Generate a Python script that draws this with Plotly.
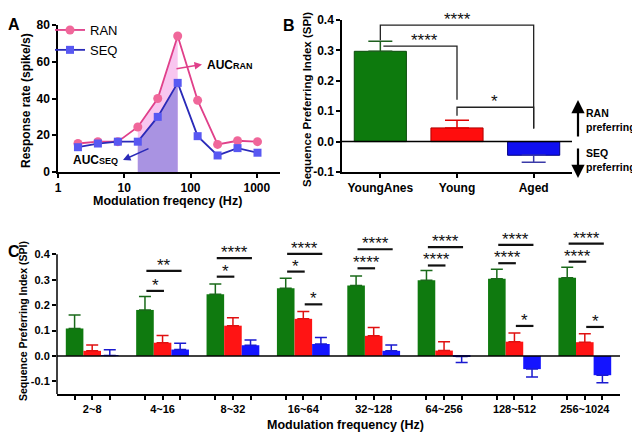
import plotly.graph_objects as go
import numpy as np

W, H = 640, 433
OFF = 8  # page body margin of the rendered html

# ---------------- data ----------------
freq = [2, 4, 8, 16, 32, 64, 128, 256, 512, 1024]
ran_rate = [15.5, 16.5, 16.5, 24.5, 40, 74, 39, 15, 17, 16.5]
seq_rate = [13.5, 15.5, 16.5, 16.5, 30, 48.5, 19.5, 9, 13, 10.5]
auc_lo, auc_hi = 16, 64

groups_b = ["YoungAnes", "Young", "Aged"]
spi_b = [0.297, 0.045, -0.045]
err_b = [0.033, 0.025, 0.023]

bands = ["2~8", "4~16", "8~32", "16~64", "32~128", "64~256", "128~512", "256~1024"]
spi_ya = [0.108, 0.181, 0.243, 0.266, 0.277, 0.298, 0.304, 0.308]
err_ya = [0.053, 0.053, 0.040, 0.040, 0.038, 0.038, 0.037, 0.041]
spi_yg = [0.020, 0.052, 0.119, 0.146, 0.079, 0.021, 0.056, 0.054]
err_yg = [0.023, 0.028, 0.031, 0.029, 0.033, 0.035, 0.034, 0.033]
spi_ag = [0.002, 0.025, 0.042, 0.047, 0.020, -0.002, -0.052, -0.076]
err_ag = [0.022, 0.025, 0.021, 0.025, 0.023, 0.024, 0.031, 0.030]

# significance: (group, from bar, to bar, height, label) ; bars: 0 green,1 red,2 blue
sig_c = [
    (1, 0, 1, 0.256, "*"), (1, 0, 2, 0.335, "**"),
    (2, 0, 1, 0.312, "*"), (2, 0, 2, 0.385, "****"),
    (3, 0, 1, 0.332, "*"), (3, 0, 2, 0.402, "****"), (3, 1, 2, 0.203, "*"),
    (4, 0, 1, 0.345, "****"), (4, 0, 2, 0.420, "****"),
    (5, 0, 1, 0.356, "****"), (5, 0, 2, 0.428, "****"),
    (6, 0, 1, 0.365, "****"), (6, 0, 2, 0.437, "****"), (6, 1, 2, 0.118, "*"),
    (7, 0, 1, 0.371, "****"), (7, 0, 2, 0.442, "****"), (7, 1, 2, 0.114, "*"),
]
# bracket for B: (x_left, x_right, height, left leg bottom, right leg bottom, label, label x)
sig_b = [
    (0, 2, 0.383, 0.333, 0.043, "****", 1.0),
    (0.04, 1, 0.314, 0.314, 0.138, "****", 0.58),
    (1, 2, 0.113, 0.085, 0.043, "*", 1.49),
]

# ---------------- styles ----------------
FONT = "Liberation Sans"
PINK_L, PINK_M = "#e0408a", "#f0679a"
BLUE_L, BLUE_M = "#2a2ab8", "#5858f2"
GREEN, RED, BLUE = "#0f7a0f", "#ff1414", "#1414ff"

def px(x):
    return (x - OFF) / W

def py(y):
    return 1 - (y - OFF) / H

fig = go.Figure()

# ---------------- panel A ----------------
idx = [i for i, f in enumerate(freq) if auc_lo <= f <= auc_hi]
fig.add_trace(go.Scatter(x=[freq[i] for i in idx], y=[ran_rate[i] for i in idx],
                         mode="lines", line=dict(width=0), fill="tozeroy",
                         fillcolor="#f8c6ef", showlegend=False, hoverinfo="skip",
                         xaxis="x", yaxis="y"))
fig.add_trace(go.Scatter(x=[freq[i] for i in idx], y=[seq_rate[i] for i in idx],
                         mode="lines", line=dict(width=0), fill="tozeroy",
                         fillcolor="#a993e2", showlegend=False, hoverinfo="skip",
                         xaxis="x", yaxis="y"))
fig.add_trace(go.Scatter(x=freq, y=ran_rate, name="RAN", mode="lines+markers",
                         line=dict(color=PINK_L, width=1.8),
                         marker=dict(symbol="circle", size=9, color=PINK_M),
                         xaxis="x", yaxis="y"))
fig.add_trace(go.Scatter(x=freq, y=seq_rate, name="SEQ", mode="lines+markers",
                         line=dict(color=BLUE_L, width=1.8),
                         marker=dict(symbol="square", size=8, color=BLUE_M),
                         xaxis="x", yaxis="y"))

# ---------------- panel B ----------------
xb = list(range(len(groups_b)))
cols_b = [("#0d7a0d", "#0a4a0a", "#1d5f1d"), ("#ff0d0d", "#b00000", "#e00000"), ("#1010f0", "#000080", "#3a3aa8")]
for i, g in enumerate(groups_b):
    v = spi_b[i]
    e = err_b[i]
    fig.add_trace(go.Bar(x=[xb[i]], y=[v], width=0.68, offset=-0.34,
                         marker=dict(color=cols_b[i][0], line=dict(color=cols_b[i][1], width=1)),
                         error_y=dict(type="data", symmetric=False,
                                      array=[e if v >= 0 else 0], arrayminus=[0 if v >= 0 else e],
                                      color=cols_b[i][2], thickness=1.5, width=12),
                         showlegend=False, xaxis="x2", yaxis="y2"))
for (x0, x1, h, yl, yr, lab, lx) in sig_b:
    fig.add_trace(go.Scatter(x=[x0, x0, x1, x1], y=[yl, h, h, yr], mode="lines",
                             line=dict(color="#222222", width=1.3), showlegend=False,
                             hoverinfo="skip", xaxis="x2", yaxis="y2"))

# ---------------- panel C ----------------
xc = np.arange(len(bands))
series_c = [(spi_ya, err_ya, GREEN, "#1a6a1a", -0.375),
            (spi_yg, err_yg, RED, "#e01010", -0.125),
            (spi_ag, err_ag, BLUE, "#1a1ad0", 0.125)]
for vals, errs, col, ecol, off in series_c:
    fig.add_trace(go.Bar(x=xc, y=vals, width=0.25, offset=off,
                         marker=dict(color=col, line=dict(width=0)),
                         error_y=dict(type="data", symmetric=False,
                                      array=[e if v >= 0 else 0 for v, e in zip(vals, errs)],
                                      arrayminus=[0 if v >= 0 else e for v, e in zip(vals, errs)],
                                      color=ecol, thickness=1.5, width=6),
                         showlegend=False, xaxis="x3", yaxis="y3"))

bar_off = [-0.25, 0.0, 0.25]
for (g, b0, b1, h, lab) in sig_c:
    fig.add_trace(go.Scatter(x=[g + bar_off[b0] + 0.02, g + bar_off[b1] + 0.02], y=[h, h],
                             mode="lines", line=dict(color="#111111", width=2.2),
                             showlegend=False, hoverinfo="skip", xaxis="x3", yaxis="y3"))

annotations = []
for (g, b0, b1, h, lab) in sig_c:
    annotations.append(dict(x=g + (bar_off[b0] + bar_off[b1]) / 2 + 0.02, y=h, xref="x3", yref="y3",
                            text=lab, showarrow=False, xanchor="center", yanchor="bottom", yshift=-6,
                            font=dict(family=FONT, size=17, color="#111111")))
for (x0, x1, h, yl, yr, lab, lx) in sig_b:
    annotations.append(dict(x=lx, y=h, xref="x2", yref="y2", text=lab, showarrow=False,
                            xanchor="center", yanchor="bottom", yshift=-6,
                            font=dict(family=FONT, size=17, color="#111111")))

def text(t, x, y, size, angle=0, xanchor="center"):
    annotations.append(dict(x=px(x), y=py(y), xref="paper", yref="paper", text=t,
                            showarrow=False, textangle=angle, xanchor=xanchor, yanchor="middle",
                            align="left", font=dict(family=FONT, size=size, color="black")))

# panel letters
for t, x, y in [("A", 14, 24), ("B", 289, 25), ("C", 14, 251)]:
    text("<b>%s</b>" % t, x, y, 16)

# axis titles
text("<b>Response rate (spike/s)</b>", 26, 101, 12, -90)
text("<b>Modulation freqency (Hz)</b>", 167, 201, 12.5)
text("<b>Sequence Preferring Index (SPI)</b>", 307, 100, 11.5, -90)
text("<b>Sequence Preferring Index (SPI)</b>", 23, 321, 10.5, -90)
text("<b>Modulation frequency (Hz)</b>", 345, 425, 12.5)

# AUC labels and arrows
text("<b>AUC<span style='font-size:9px'>RAN</span></b>", 205, 65, 12, xanchor="left")
text("<b>AUC<span style='font-size:9px'>SEQ</span></b>", 120, 160, 12, xanchor="right")
annotations.append(dict(x=px(202), y=py(64.5), xref="paper", yref="paper", ax=-27, ay=4.5,
                        text="", showarrow=True, arrowhead=2, arrowsize=1, arrowwidth=1.5,
                        arrowcolor=PINK_L))
annotations.append(dict(x=px(123), y=py(160), xref="paper", yref="paper", ax=27, ay=-12,
                        text="", showarrow=True, arrowhead=2, arrowsize=1, arrowwidth=1.5,
                        arrowcolor=BLUE_L))

# B side arrows + labels
annotations.append(dict(x=px(578), y=py(100), xref="paper", yref="paper", ax=0, ay=38,
                        text="", showarrow=True, arrowhead=2, arrowsize=1.2, arrowwidth=2.2,
                        arrowcolor="black"))
annotations.append(dict(x=px(578), y=py(178), xref="paper", yref="paper", ax=0, ay=-31,
                        text="", showarrow=True, arrowhead=2, arrowsize=1.2, arrowwidth=2.2,
                        arrowcolor="black"))
text("<b>RAN<br>preferring</b>", 584, 120, 10.5, xanchor="left")
text("<b>SEQ<br>preferring</b>", 584, 160, 10.5, xanchor="left")

tickfont = dict(family=FONT, size=12, color="black")
axis_common = dict(showline=True, linecolor="black", linewidth=1.5, ticks="outside",
                   ticklen=4, tickwidth=1.5, tickcolor="black", showgrid=False,
                   zeroline=False, tickfont=tickfont, automargin=False)

shapes = [
    dict(type="line", xref="x2 domain", yref="y2", x0=0, x1=1, y0=0, y1=0,
         line=dict(color="black", width=1.5)),
    dict(type="line", xref="x3 domain", yref="y3", x0=0, x1=1, y0=0, y1=0,
         line=dict(color="black", width=1.5)),
    dict(type="line", xref="x3 domain", yref="y3", x0=0, x1=0, y0=-0.15, y1=0.4,
         line=dict(color="black", width=1.5)),
]

c_tickvals, c_ticktext = [], []
for i, b in enumerate(bands):
    for o in bar_off:
        c_tickvals.append(i + o)
        c_ticktext.append("<b>%s</b>" % b if o == 0 else "")

fig.update_layout(
    width=W, height=H,
    autosize=False,
    margin=dict(l=0, r=0, t=0, b=0, pad=0, autoexpand=False),
    paper_bgcolor="white", plot_bgcolor="white",
    font=dict(family=FONT, color="black"),
    showlegend=True,
    legend=dict(x=px(50), y=py(15), xanchor="left", yanchor="top",
                bgcolor="rgba(0,0,0,0)", font=dict(family=FONT, size=13, color="black"),
                itemwidth=30, tracegroupgap=0),
    xaxis=dict(axis_common, type="log", domain=[px(58), px(280)], range=[0, 3.35],
               tickvals=[1, 10, 100, 1000], ticktext=["<b>1</b>", "<b>10</b>", "<b>100</b>", "<b>1000</b>"],
               anchor="y"),
    yaxis=dict(axis_common, domain=[py(172), py(25)], range=[0, 80],
               tickvals=[0, 20, 40, 60, 80], ticktext=["<b>%d</b>" % v for v in [0, 20, 40, 60, 80]],
               anchor="x"),
    xaxis2=dict(axis_common, domain=[px(342), px(572)], range=[-0.5, 2.5],
                tickvals=xb, ticktext=["<b>%s</b>" % g for g in groups_b], anchor="y2"),
    yaxis2=dict(axis_common, domain=[py(172), py(20)], range=[-0.1, 0.4],
                tickvals=[-0.1, 0, 0.1, 0.2, 0.3, 0.4],
                ticktext=["<b>%s</b>" % t for t in ["-0.1", "0.0", "0.1", "0.2", "0.3", "0.4"]],
                anchor="x2"),
    xaxis3=dict(axis_common, domain=[px(57), px(620)], range=[-0.5, len(bands) - 0.5],
                tickvals=c_tickvals, ticktext=c_ticktext, anchor="y3",
                tickfont=dict(family=FONT, size=11, color="black")),
    yaxis3=dict(axis_common, showline=False, domain=[py(394), py(234)], range=[-0.15, 0.48],
                tickvals=[-0.1, 0, 0.1, 0.2, 0.3, 0.4],
                ticktext=["<b>%s</b>" % t for t in ["-0.1", "0.0", "0.1", "0.2", "0.3", "0.4"]],
                anchor="x3", tickfont=dict(family=FONT, size=11, color="black")),
    annotations=annotations,
    shapes=shapes,
)

fig.write_html("out.html")
